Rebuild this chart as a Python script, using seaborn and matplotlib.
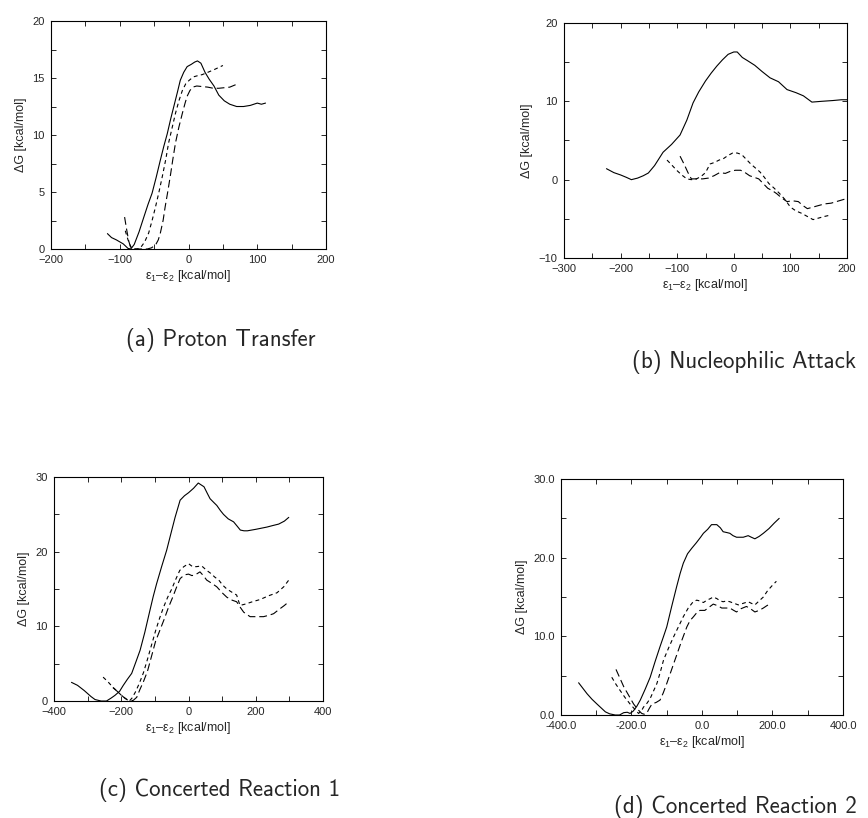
import numpy as np
import pandas as pd
import matplotlib
matplotlib.use('Agg')
import matplotlib.pyplot as plt
from matplotlib.ticker import MultipleLocator, FormatStrFormatter
import seaborn as sns

# (a) Proton Transfer
a_solid_x = [-118, -112, -105, -95, -88, -84, -79, -72, -65, -59, -53, -47, -41, -36, -31, -26, -21, -16, -12, -7, -2, 4, 9, 13, 18, 24, 30, 37, 44, 52, 60, 70, 80, 90, 100, 106, 112]
a_solid_y = [1.35, 1.0, 0.8, 0.45, 0.05, 0.0, 0.4, 1.5, 2.8, 3.9, 4.9, 6.3, 7.8, 9.0, 10.1, 11.4, 12.6, 13.8, 14.8, 15.5, 16.0, 16.2, 16.4, 16.5, 16.3, 15.5, 14.9, 14.3, 13.5, 13.0, 12.7, 12.5, 12.5, 12.6, 12.8, 12.7, 12.8]
a_short_x = [-92, -88, -84, -80, -75, -70, -64, -58, -53, -48, -43, -38, -33, -29, -24, -19, -14, -9, -4, 1, 7, 13, 20, 28, 36, 43, 50]
a_short_y = [1.6, 0.8, 0.2, 0.0, 0.0, 0.1, 0.6, 1.4, 2.5, 3.7, 5.0, 6.4, 7.9, 9.3, 10.6, 11.9, 13.0, 13.9, 14.5, 14.8, 15.1, 15.2, 15.3, 15.5, 15.7, 15.9, 16.1]
a_long_x = [-93, -90, -87, -84, -80, -70, -60, -54, -48, -44, -41, -37, -34, -30, -26, -23, -19, -14, -9, -5, -2, 2, 6, 12, 20, 28, 36, 44, 52, 60, 66, 72]
a_long_y = [2.8, 1.7, 0.7, 0.1, 0.0, 0.0, 0.0, 0.1, 0.35, 0.8, 1.4, 2.5, 3.7, 5.1, 6.6, 7.8, 9.3, 10.7, 11.9, 12.8, 13.4, 13.9, 14.2, 14.3, 14.25, 14.2, 14.1, 14.1, 14.15, 14.2, 14.35, 14.5]

# (b) Nucleophilic Attack
b_solid_x = [-225, -212, -200, -190, -181, -170, -160, -151, -140, -125, -110, -95, -83, -72, -62, -50, -40, -30, -20, -10, 0, 6, 15, 24, 37, 50, 64, 79, 94, 110, 123, 138, 155, 175, 190, 200]
b_solid_y = [1.4, 0.9, 0.6, 0.3, 0.0, 0.2, 0.5, 0.85, 1.8, 3.5, 4.5, 5.7, 7.6, 9.8, 11.2, 12.6, 13.6, 14.5, 15.3, 16.0, 16.3, 16.3, 15.6, 15.2, 14.6, 13.8, 13.0, 12.5, 11.5, 11.1, 10.7, 9.9, 10.0, 10.1, 10.2, 10.2]
b_short_x = [-118, -110, -101, -92, -83, -75, -66, -58, -50, -42, -34, -26, -18, -10, -2, 6, 14, 22, 30, 38, 46, 54, 62, 70, 80, 90, 100, 110, 120, 130, 140, 150, 160, 172]
b_short_y = [2.5, 1.9, 1.2, 0.6, 0.1, 0.0, 0.1, 0.4, 0.9, 2.0, 2.2, 2.5, 2.7, 3.1, 3.4, 3.4, 3.2, 2.6, 2.0, 1.5, 1.0, 0.3, -0.5, -1.0, -1.7, -2.5, -3.5, -4.0, -4.3, -4.7, -5.1, -4.9, -4.7, -4.5]
b_long_x = [-95, -88, -81, -75, -65, -55, -45, -35, -25, -15, -5, 3, 12, 20, 28, 36, 44, 52, 60, 68, 76, 84, 94, 104, 114, 122, 130, 140, 150, 160, 172, 186, 200]
b_long_y = [3.0, 2.0, 0.9, 0.1, 0.1, 0.1, 0.2, 0.5, 0.9, 0.8, 1.1, 1.2, 1.2, 0.9, 0.5, 0.3, 0.1, -0.5, -1.1, -1.4, -1.8, -2.3, -2.8, -2.7, -2.8, -3.3, -3.7, -3.5, -3.3, -3.1, -3.0, -2.7, -2.4]

# (c) Concerted Reaction 1
c_solid_x = [-348, -330, -310, -290, -278, -260, -244, -230, -219, -205, -194, -182, -169, -156, -144, -130, -115, -105, -95, -80, -65, -52, -40, -25, -12, 0, 15, 29, 46, 56, 64, 75, 84, 95, 104, 118, 134, 145, 154, 165, 175, 200, 233, 250, 268, 285, 298]
c_solid_y = [2.5, 2.1, 1.4, 0.6, 0.2, 0.0, 0.0, 0.4, 0.75, 1.3, 2.1, 2.9, 3.7, 5.3, 6.8, 9.2, 12.1, 14.0, 15.7, 18.0, 20.2, 22.5, 24.6, 26.9, 27.5, 27.9, 28.5, 29.2, 28.7, 27.8, 27.1, 26.6, 26.2, 25.5, 25.0, 24.4, 24.0, 23.4, 22.9, 22.8, 22.8, 23.0, 23.3, 23.5, 23.7, 24.1, 24.6]
c_short_x = [-254, -240, -226, -212, -198, -186, -176, -168, -158, -146, -134, -122, -110, -98, -86, -74, -62, -50, -38, -26, -14, 0, 12, 24, 39, 54, 66, 78, 90, 102, 114, 128, 143, 153, 170, 190, 213, 238, 263, 283, 298]
c_short_y = [3.2, 2.6, 1.9, 1.3, 0.7, 0.3, 0.0, 0.4, 1.2, 2.4, 3.8, 5.6, 7.5, 9.4, 11.1, 12.6, 13.9, 15.0, 16.3, 17.5, 18.0, 18.4, 18.0, 18.0, 18.1, 17.5, 17.1, 16.6, 16.2, 15.5, 15.0, 14.6, 14.2, 12.8, 13.0, 13.3, 13.6, 14.1, 14.5, 15.3, 16.2]
c_long_x = [-225, -212, -200, -190, -180, -172, -164, -154, -144, -134, -122, -110, -98, -85, -72, -60, -48, -36, -25, -12, 0, 10, 20, 34, 44, 54, 68, 84, 100, 114, 130, 143, 153, 164, 183, 203, 223, 240, 253, 270, 285, 298]
c_long_y = [1.8, 1.3, 0.8, 0.4, 0.1, 0.0, 0.1, 0.5, 1.6, 2.6, 4.0, 6.0, 8.0, 9.5, 11.0, 12.5, 13.8, 15.2, 16.4, 16.9, 17.0, 16.8, 16.9, 17.3, 16.8, 16.2, 15.8, 15.3, 14.5, 13.9, 13.5, 13.3, 12.6, 11.9, 11.3, 11.3, 11.3, 11.5, 11.7, 12.3, 12.8, 13.3]

# (d) Concerted Reaction 2
d_solid_x = [-350, -338, -326, -312, -298, -286, -274, -262, -246, -234, -222, -212, -204, -195, -185, -175, -161, -147, -133, -119, -109, -100, -86, -72, -62, -53, -41, -29, -16, -4, 4, 16, 27, 42, 52, 60, 70, 79, 88, 98, 108, 117, 124, 131, 140, 150, 162, 174, 190, 205, 219]
d_solid_y = [4.1, 3.4, 2.7, 2.0, 1.4, 0.9, 0.4, 0.15, 0.0, 0.0, 0.3, 0.35, 0.2, 0.5, 1.1, 1.9, 3.3, 4.8, 6.8, 8.7, 10.0, 11.2, 13.8, 16.3, 18.0, 19.3, 20.5, 21.2, 21.9, 22.6, 23.1, 23.6, 24.2, 24.2, 23.8, 23.3, 23.2, 23.1, 22.8, 22.6, 22.6, 22.6, 22.7, 22.8, 22.6, 22.4, 22.7, 23.1, 23.7, 24.4, 25.0]
d_short_x = [-256, -244, -232, -218, -204, -192, -180, -172, -166, -156, -147, -138, -128, -118, -109, -95, -81, -67, -53, -39, -25, -15, -6, 4, 14, 24, 32, 42, 52, 60, 70, 79, 91, 103, 117, 131, 140, 150, 162, 174, 186, 200, 211]
d_short_y = [4.8, 3.9, 3.1, 2.2, 1.4, 0.8, 0.2, 0.5, 1.0, 1.5, 2.1, 3.0, 4.0, 5.5, 7.0, 8.5, 9.9, 11.2, 12.5, 13.6, 14.4, 14.6, 14.5, 14.3, 14.6, 14.8, 15.0, 14.8, 14.5, 14.4, 14.5, 14.4, 14.2, 14.0, 14.2, 14.4, 14.2, 14.0, 14.5, 15.0, 15.8, 16.5, 17.0]
d_long_x = [-244, -234, -222, -208, -194, -182, -171, -164, -157, -150, -142, -130, -119, -110, -100, -86, -72, -58, -43, -34, -24, -15, -6, 8, 20, 32, 44, 56, 68, 79, 90, 98, 110, 126, 138, 150, 162, 174, 184, 192]
d_long_y = [5.8, 4.8, 3.6, 2.5, 1.4, 0.7, 0.2, 0.1, 0.2, 0.8, 1.4, 1.6, 1.9, 2.8, 4.0, 5.8, 7.6, 9.4, 11.2, 12.0, 12.5, 13.0, 13.3, 13.3, 13.7, 14.1, 13.9, 13.6, 13.6, 13.6, 13.3, 13.1, 13.5, 13.8, 13.5, 13.1, 13.3, 13.6, 13.9, 14.1]

captions = ['(a) Proton Transfer', '(b) Nucleophilic Attack',
            '(c) Concerted Reaction 1', '(d) Concerted Reaction 2']


def make_df(solid_x, solid_y, short_x, short_y, long_x, long_y):
    parts = []
    for name, xs, ys in [('solid', solid_x, solid_y), ('short', short_x, short_y), ('long', long_x, long_y)]:
        parts.append(pd.DataFrame({'x': xs, 'dG': ys, 'curve': name}))
    return pd.concat(parts, ignore_index=True)


sns.set_style('ticks')
plt.rcParams['font.family'] = ['Liberation Sans', 'DejaVu Sans']
plt.rcParams['mathtext.fontset'] = 'custom'
plt.rcParams['mathtext.rm'] = 'Liberation Sans'
plt.rcParams['mathtext.it'] = 'Liberation Sans:italic'

fig = plt.figure(figsize=(8.68, 8.18), dpi=100)

panels = [
    dict(df=make_df(a_solid_x, a_solid_y, a_short_x, a_short_y, a_long_x, a_long_y),
         pos=[0.0588, 0.6956, 0.3168, 0.2787], xlim=(-200, 200), ylim=(0, 20),
         xmaj=100, xmin=50, ymaj=5, ymin=2.5, fmt=None,
         cap=(0.2546, 0.5844)),
    dict(df=make_df(b_solid_x, b_solid_y, b_short_x, b_short_y, b_long_x, b_long_y),
         pos=[0.6498, 0.6846, 0.326, 0.2873], xlim=(-300, 200), ylim=(-10, 20),
         xmaj=100, xmin=50, ymaj=10, ymin=5, fmt=None,
         cap=(0.857, 0.557)),
    dict(df=make_df(c_solid_x, c_solid_y, c_short_x, c_short_y, c_long_x, c_long_y),
         pos=[0.0622, 0.143, 0.31, 0.2738], xlim=(-400, 400), ylim=(0, 30),
         xmaj=200, xmin=100, ymaj=10, ymin=5, fmt=None,
         cap=(0.2535, 0.0342)),
    dict(df=make_df(d_solid_x, d_solid_y, d_short_x, d_short_y, d_long_x, d_long_y),
         pos=[0.6463, 0.1259, 0.3249, 0.2885], xlim=(-400, 400), ylim=(0, 30),
         xmaj=200, xmin=100, ymaj=10, ymin=5, fmt='%.1f',
         cap=(0.8468, 0.0134)),
]

dash_styles = {'solid': '', 'short': (3.5, 3), 'long': (7, 3.5)}

for p, cap in zip(panels, captions):
    ax = fig.add_axes(p['pos'])
    sns.lineplot(data=p['df'], x='x', y='dG', style='curve', dashes=dash_styles,
                 color='black', lw=0.8, sort=False, estimator=None, legend=False, ax=ax)
    ax.set_xlim(*p['xlim'])
    ax.set_ylim(*p['ylim'])
    ax.xaxis.set_major_locator(MultipleLocator(p['xmaj']))
    ax.xaxis.set_minor_locator(MultipleLocator(p['xmin']))
    ax.yaxis.set_major_locator(MultipleLocator(p['ymaj']))
    ax.yaxis.set_minor_locator(MultipleLocator(p['ymin']))
    if p['fmt']:
        ax.xaxis.set_major_formatter(FormatStrFormatter(p['fmt']))
        ax.yaxis.set_major_formatter(FormatStrFormatter(p['fmt']))
    ax.tick_params(which='both', direction='in', top=True, right=True,
                   labelsize=8, width=0.7, length=3.5)
    ax.tick_params(axis='x', which='major', pad=4.5)
    ax.tick_params(axis='y', which='major', pad=4.5)
    for s in ax.spines.values():
        s.set_linewidth(0.8)
        s.set_color('black')
    ax.set_xlabel('ε$_1$–ε$_2$ [kcal/mol]', fontsize=9, labelpad=2)
    ax.set_ylabel('ΔG [kcal/mol]', fontsize=9, labelpad=4)
    fig.text(p['cap'][0], p['cap'][1], cap, ha='center', va='center',
             fontsize=16.5, family=['cmss10', 'DejaVu Sans'])

fig.savefig('out.png', dpi=100)
